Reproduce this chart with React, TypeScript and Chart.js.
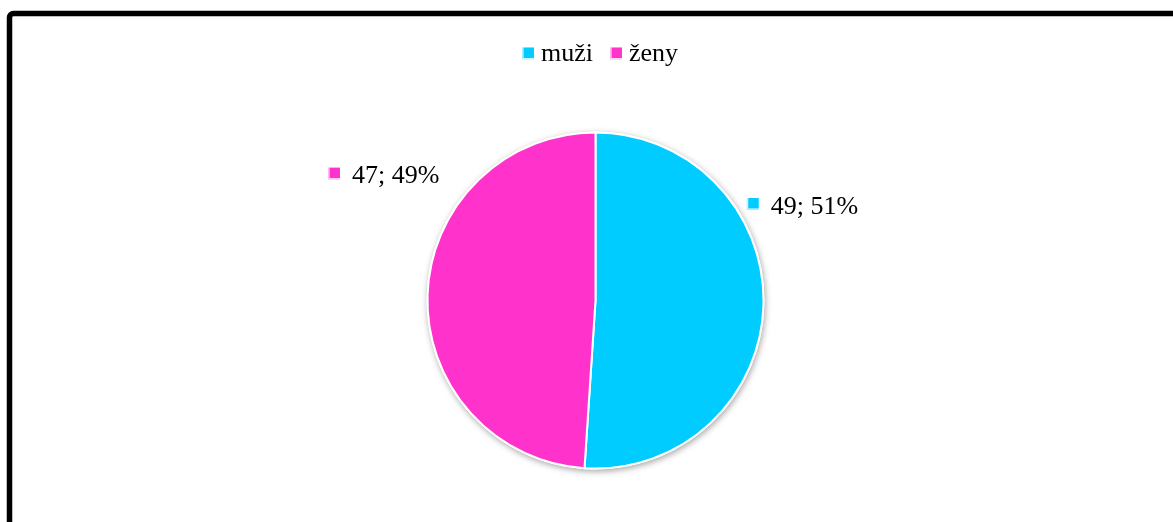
import React, { useEffect, useRef } from "react";
import { Chart, registerables } from "chart.js";

Chart.register(...registerables);

const categories = ["muži", "ženy"];
const values = [49, 47];
const colors = ["#00CCFF", "#FF33CC"];

const FONT = "'Liberation Serif', 'Times New Roman', serif";
const FONT_SIZE = 26;

// label placement around the pie (angle in degrees from +x, screen coords; gap beyond radius)
const labelPlacement = [
  { angle: -32.5, gap: 12.5, align: "left" },
  { angle: -140.8, gap: 33.5, align: "right" },
];

const frameBorder = {
  id: "frameBorder",
  beforeDraw(chart: any) {
    const ctx = chart.ctx;
    ctx.save();
    ctx.fillStyle = "#ffffff";
    ctx.fillRect(0, 0, chart.width, chart.height);
    ctx.strokeStyle = "#000000";
    ctx.lineWidth = 5.5;
    ctx.beginPath();
    if (ctx.roundRect) ctx.roundRect(9.5, 13.5, chart.width + 40, chart.height + 40, 4);
    else ctx.rect(9.5, 13.5, chart.width + 40, chart.height + 40);
    ctx.stroke();
    ctx.restore();
  },
};

const pieShadow = {
  id: "pieShadow",
  beforeDatasetsDraw(chart: any) {
    const meta = chart.getDatasetMeta(0);
    const arc = meta.data[0];
    if (!arc) return;
    const { x, y, outerRadius } = arc.getProps(["x", "y", "outerRadius"], true);
    const ctx = chart.ctx;
    ctx.save();
    ctx.shadowColor = "rgba(0,0,0,0.35)";
    ctx.shadowBlur = 6;
    ctx.shadowOffsetX = 1;
    ctx.shadowOffsetY = 2;
    ctx.fillStyle = "#ffffff";
    ctx.beginPath();
    ctx.arc(x, y, outerRadius + 1, 0, Math.PI * 2);
    ctx.fill();
    ctx.restore();
  },
};

function drawKey(ctx: CanvasRenderingContext2D, x: number, y: number, color: string) {
  // small square key with a pale outline
  ctx.fillStyle = color;
  ctx.globalAlpha = 0.35;
  ctx.fillRect(x - 1, y, 12, 12);
  ctx.globalAlpha = 1;
  ctx.fillStyle = "#ffffff";
  ctx.fillRect(x, y, 11, 11);
  ctx.fillStyle = color;
  ctx.fillRect(x + 0.5, y, 10.5, 10.5);
}

const customLegend = {
  id: "customLegend",
  afterDraw(chart: any) {
    const ctx = chart.ctx;
    const labels: string[] = chart.data.labels;
    const bg: string[] = chart.data.datasets[0].backgroundColor;
    ctx.save();
    ctx.font = `${FONT_SIZE}px ${FONT}`;
    ctx.textBaseline = "alphabetic";
    ctx.textAlign = "left";
    const box = 11, gapBox = 7, gapItem = 18;
    const widths = labels.map((l) => ctx.measureText(l).width);
    const total = widths.reduce((a, w) => a + box + gapBox + w, 0) + gapItem * (labels.length - 1);
    const meta = chart.getDatasetMeta(0);
    const cx = meta.data[0] ? meta.data[0].x + 5 : chart.width / 2;
    let x = cx - total / 2;
    const boxTop = 47.5;
    const baseline = 60.7;
    labels.forEach((l, i) => {
      drawKey(ctx, x, boxTop, bg[i]);
      x += box + gapBox;
      ctx.fillStyle = "#000000";
      ctx.fillText(l, x, baseline);
      x += widths[i] + gapItem;
    });
    ctx.restore();
  },
};

const dataLabels = {
  id: "dataLabels",
  afterDatasetsDraw(chart: any) {
    const ctx = chart.ctx;
    const ds = chart.data.datasets[0];
    const data: number[] = ds.data;
    const total = data.reduce((a, b) => a + b, 0);
    const meta = chart.getDatasetMeta(0);
    ctx.save();
    ctx.font = `${FONT_SIZE}px ${FONT}`;
    ctx.textBaseline = "alphabetic";
    ctx.textAlign = "left";
    meta.data.forEach((arc: any, i: number) => {
      const { x, y, outerRadius } = arc.getProps(["x", "y", "outerRadius"], true);
      const p = labelPlacement[i];
      const a = (p.angle * Math.PI) / 180;
      const ax = x + Math.cos(a) * (outerRadius + p.gap);
      const ay = y + Math.sin(a) * (outerRadius + p.gap);
      const text = `${data[i]}; ${Math.round((data[i] / total) * 100)}%`;
      const tw = ctx.measureText(text).width;
      const box = 11, gap = 12;
      let left = ax;
      if (p.align === "right") left = ax - tw - gap - box;
      drawKey(ctx, left, ay - 5.5, ds.backgroundColor[i]);
      ctx.fillStyle = "#000000";
      ctx.fillText(text, left + box + gap, ay + 10);
    });
    ctx.restore();
  },
};

export default function App() {
  const ref = useRef<HTMLCanvasElement | null>(null);
  useEffect(() => {
    if (!ref.current) return;
    const chart = new Chart(ref.current, {
      type: "pie",
      data: {
        labels: categories,
        datasets: [
          {
            data: values,
            backgroundColor: colors,
            borderColor: "#ffffff",
            borderWidth: 2,
            radius: 168,
          } as any,
        ],
      },
      options: {
        responsive: false,
        animation: false,
        layout: { padding: { left: 18, right: 0, top: 100, bottom: 21 } },
        plugins: {
          legend: { display: false },
          tooltip: { enabled: false },
        },
      },
      plugins: [frameBorder, pieShadow, dataLabels, customLegend],
    });
    return () => chart.destroy();
  }, []);
  return (
    <div style={{ position: "absolute", left: 0, top: 0, width: 1173, height: 522 }}>
      <canvas ref={ref} width={1173} height={522} style={{ display: "block" }} />
    </div>
  );
}
